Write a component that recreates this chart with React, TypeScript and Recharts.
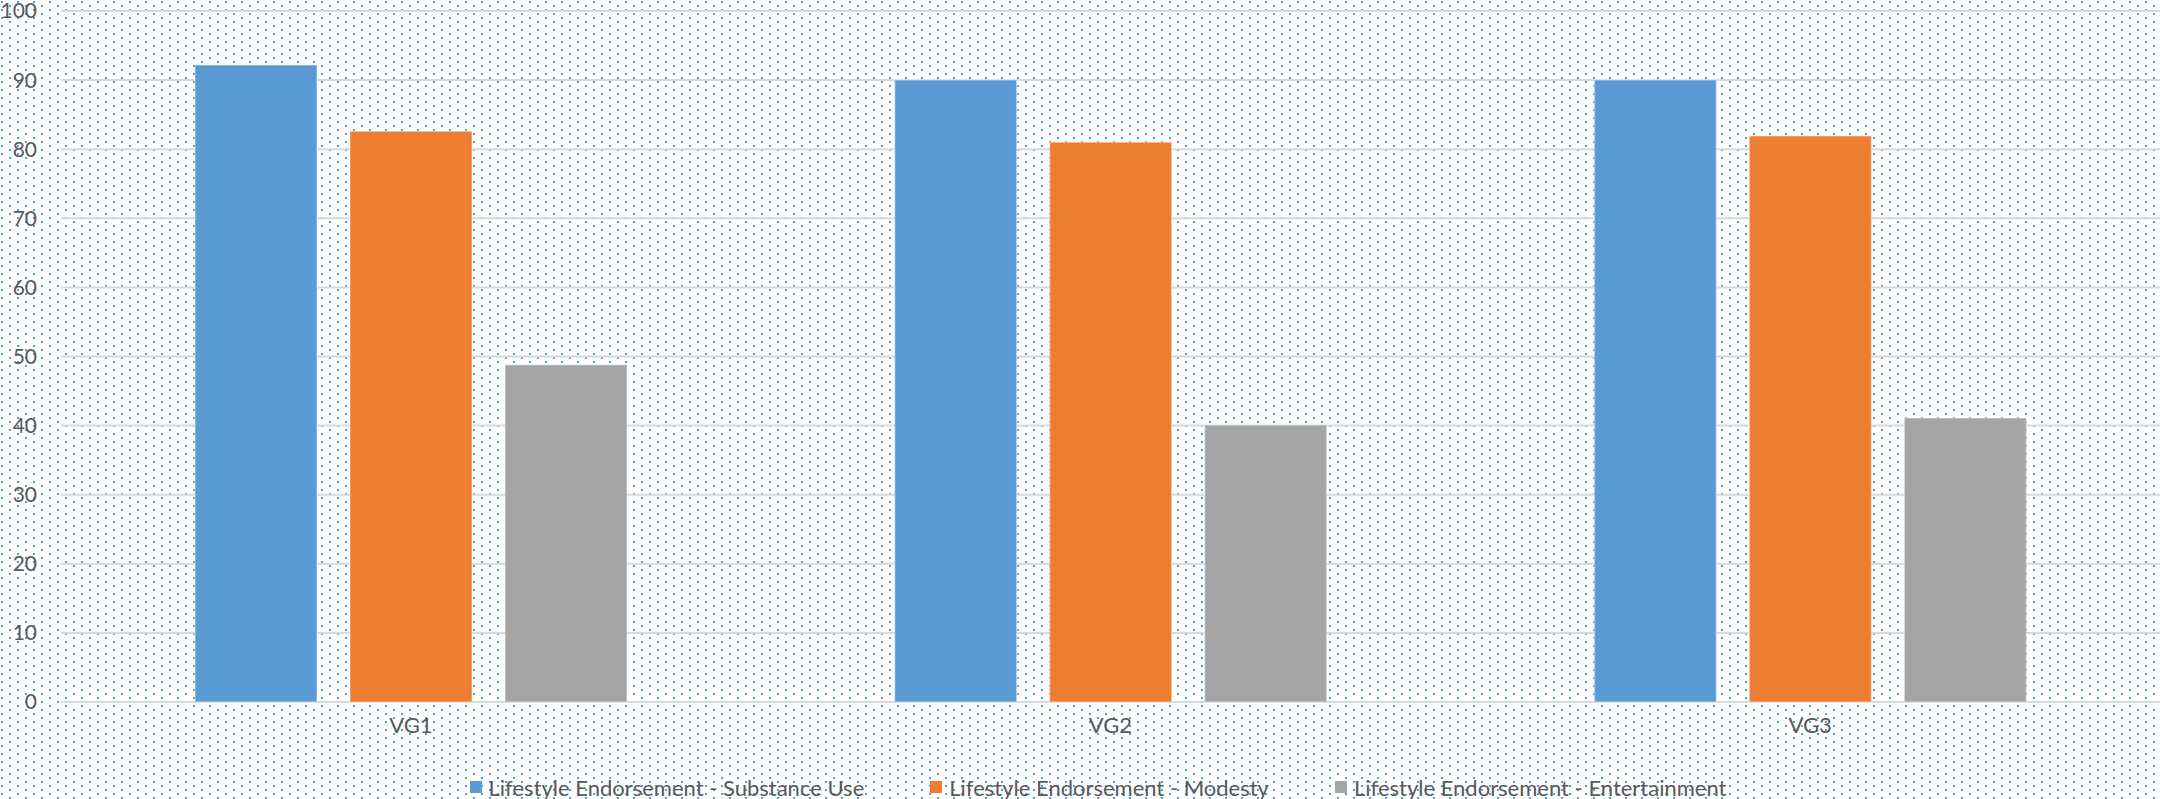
import React from 'react'
import { BarChart, Bar, XAxis, YAxis, CartesianGrid, Legend } from 'recharts'

const categories = ['VG1', 'VG2', 'VG3']
const substanceUse = [92.2, 90.0, 90.0]
const modesty = [82.6, 81.0, 81.9]
const entertainment = [48.8, 40.1, 41.1]
const yTicks = [0, 10, 20, 30, 40, 50, 60, 70, 80, 90, 100]

const seriesInfo = [
  { key: 'substance', name: 'Lifestyle Endorsement - Substance Use', color: '#5B9BD5' },
  { key: 'modesty', name: 'Lifestyle Endorsement - Modesty', color: '#ED7D31' },
  { key: 'entertainment', name: 'Lifestyle Endorsement - Entertainment', color: '#A5A5A5' },
]

const data = categories.map((c, i) => ({
  name: c,
  substance: substanceUse[i],
  modesty: modesty[i],
  entertainment: entertainment[i],
}))

// background dot pattern
const dots =
  "data:image/svg+xml," +
  encodeURIComponent(
    "<svg xmlns='http://www.w3.org/2000/svg' width='16' height='8'><rect x='1' y='1' width='2' height='2' fill='#5B9BD5'/><rect x='9' y='5' width='2' height='2' fill='#5B9BD5'/></svg>"
  )

const font = 'Lato, "Open Sans", sans-serif'

const LegendContent = () => (
  <div style={{ display: 'flex', justifyContent: 'center', gap: 66, paddingLeft: 36, height: 24, alignItems: 'center' }}>
    {seriesInfo.map((s) => (
      <div key={s.key} style={{ display: 'flex', alignItems: 'center' }}>
        <span style={{ width: 12, height: 12, background: s.color, marginRight: 7, display: 'inline-block' }} />
        <span style={{ fontFamily: font, fontSize: 22, color: '#595959' }}>{s.name}</span>
      </div>
    ))}
  </div>
)

export default function App() {
  return (
    <div
      style={{
        position: 'absolute',
        left: 0,
        top: 0,
        width: 2160,
        height: 799,
        backgroundColor: '#fff',
        backgroundImage: `url("${dots}")`,
      }}
    >
      <BarChart
        width={2160}
        height={799}
        data={data}
        margin={{ top: 11, right: 0, bottom: 0, left: 0 }}
        barGap={33}
        barSize={122}
      >
        <CartesianGrid vertical={false} stroke="#D9D9D9" strokeWidth={2} />
        <XAxis
          dataKey="name"
          axisLine={false}
          tickLine={false}
          tickSize={0}
          tickMargin={15}
          height={73}
          tick={{ fill: '#595959', fontSize: 22, fontFamily: font }}
        />
        <YAxis
          domain={[0, 100]}
          ticks={yTicks}
          interval={0}
          axisLine={false}
          tickLine={false}
          tickSize={0}
          tickMargin={24}
          width={61}
          tick={{ fill: '#595959', fontSize: 21, fontFamily: font }}
        />
        <Legend verticalAlign="bottom" height={24} content={<LegendContent />} wrapperStyle={{ bottom: 0, left: 0, width: 2160 }} />
        {seriesInfo.map((s) => (
          <Bar
            key={s.key}
            dataKey={s.key}
            name={s.name}
            fill={s.color}
            stroke="rgba(255,255,255,0.35)"
            strokeWidth={1.5}
            isAnimationActive={false}
          />
        ))}
      </BarChart>
    </div>
  )
}
